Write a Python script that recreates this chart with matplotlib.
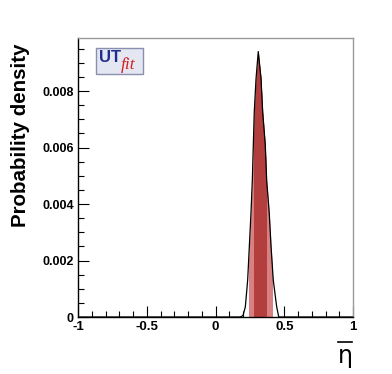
import matplotlib
matplotlib.use("Agg")
import matplotlib.pyplot as plt
from matplotlib.patches import Rectangle, FancyBboxPatch
from matplotlib.lines import Line2D
from matplotlib.ticker import MultipleLocator

# data
eta = [-1.0, 0.18, 0.20, 0.217, 0.234, 0.246, 0.258, 0.268, 0.275, 0.282, 0.295,
       0.311, 0.331, 0.343, 0.362, 0.372, 0.391, 0.404, 0.420, 0.445, 0.46, 1.0]
density = [0.0, 0.0, 0.00005, 0.00036, 0.00131, 0.00249, 0.00367, 0.00485, 0.00609,
           0.00727, 0.00845, 0.0094, 0.00845, 0.00727, 0.00609, 0.00485, 0.00367,
           0.00249, 0.00131, 0.00036, 0.0, 0.0]
range95 = [0.240, 0.412]
range68 = [0.278, 0.368]
xticks = [-1, -0.5, 0, 0.5, 1]
xticklabels = ["-1", "-0.5", "0", "0.5", "1"]
yticks = [0, 0.002, 0.004, 0.006, 0.008]
yticklabels = ["0", "0.002", "0.004", "0.006", "0.008"]

plt.rcParams['font.family'] = ['Liberation Sans', 'DejaVu Sans']

fig = plt.figure(figsize=(3.92, 3.74), dpi=100)
ax = fig.add_axes([78/392, 1-317/374, (353-78)/392, (317-38)/374])
ax.set_xlim(-1, 1)
ax.set_ylim(0, 0.00988)

light = '#d98080'
dark = '#b23e3e'
for (lo, hi), col in [(range95, light), (range68, dark)]:
    poly = ax.fill_between(eta, density, 0, color=col, lw=0, zorder=2)
    clip = Rectangle((lo, 0), hi - lo, 1, transform=ax.transData)
    poly.set_clip_path(clip)

ax.plot(eta, density, color='black', lw=0.9, zorder=3)

ax.set_xticks(xticks)
ax.set_xticklabels(xticklabels, fontweight='bold', fontsize=9.5)
ax.set_yticks(yticks)
ax.set_yticklabels(yticklabels, fontweight='bold', fontsize=9)
ax.xaxis.set_minor_locator(MultipleLocator(0.1))
ax.yaxis.set_minor_locator(MultipleLocator(0.0005))
ax.tick_params(which='major', direction='in', length=8, width=0.8,
               top=False, right=False)
ax.tick_params(axis='x', which='major', pad=3)
ax.tick_params(axis='y', which='major', pad=3)
ax.tick_params(which='minor', direction='in', length=4, width=0.8,
               top=False, right=False)
for s in ['top', 'right']:
    ax.spines[s].set_color('#9a9a9a')
for s in ['left', 'bottom']:
    ax.spines[s].set_color('black')
for s in ax.spines.values():
    s.set_linewidth(1.0)

ax.set_ylabel('Probability density', fontweight='bold', fontsize=14.8)
ax.yaxis.set_label_coords(-0.175, 0.65)

# eta-bar axis title
fig.text(345/392, 1-356/374, '\u03b7', fontsize=17, ha='center', va='center',
         family=['DejaVu Sans'])
fig.add_artist(Line2D([338/392, 352/392], [1-342/374, 1-342/374],
                      transform=fig.transFigure, color='black', lw=1.2))

# UTfit logo
box = FancyBboxPatch((96/392, 1-74/374), 47/392, 26/374, boxstyle='square,pad=0',
                     transform=fig.transFigure, facecolor='#e4e7f2',
                     edgecolor='#8a8fb0', lw=1.0, zorder=5)
fig.add_artist(box)
fig.text(98.5/392, 1-58/374, 'UT', color='#1f2e8c', fontweight='bold', fontsize=12,
         va='center', ha='left', zorder=6)
fig.text(121/392, 1-65/374, 'fit', color='#d42020', style='italic', fontsize=12.5,
         va='center', ha='left', zorder=6, family=['Liberation Serif'])

fig.savefig('out.png', dpi=100)
